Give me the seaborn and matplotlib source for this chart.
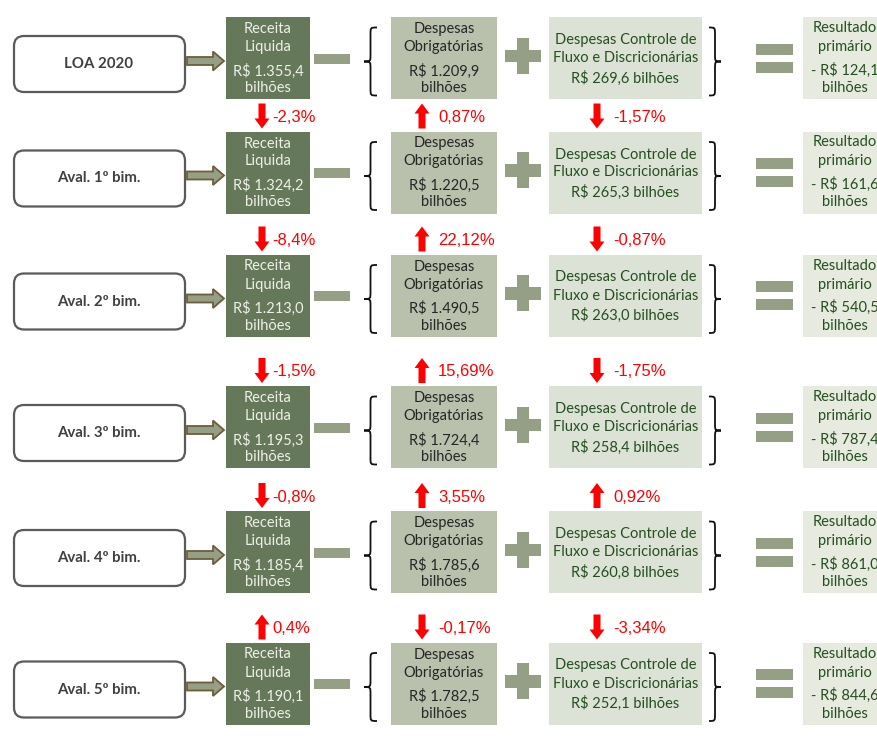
import numpy as np
import seaborn as sns
import matplotlib.pyplot as plt
from matplotlib.patches import FancyBboxPatch, Rectangle, Polygon, PathPatch
from matplotlib.path import Path

# dados (R$ bilhões)
etapas = ["LOA 2020", "Aval. 1º bim.", "Aval. 2º bim.", "Aval. 3º bim.", "Aval. 4º bim.", "Aval. 5º bim."]
receita = [1355.4, 1324.2, 1213.0, 1195.3, 1185.4, 1190.1]
obrigatorias = [1209.9, 1220.5, 1490.5, 1724.4, 1785.6, 1782.5]
controle = [269.6, 265.3, 263.0, 258.4, 260.8, 252.1]
resultado = [-124.1, -161.6, -540.5, -787.4, -861.0, -844.6]
# variação em relação à avaliação anterior (%)
var_receita = [-2.3, -8.4, -1.5, -0.8, 0.4]
var_obrig = [0.87, 22.12, 15.69, 3.55, -0.17]
var_controle = [-1.57, -0.87, -1.75, 0.92, -3.34]

# layout (pixels)
row_y = [58, 172.5, 295.5, 427, 552, 683.5]
HALF = 41

C_REC = "#66785a"
C_OBR = "#b9c1ad"
C_CTL = "#dde2d6"
C_RES = "#e6eadf"
C_SIG = "#949f86"
C_TXT_GREEN = "#24501f"
RED = "#ff0000"


def br(v, dec=1):
    s = f"{abs(v):,.{dec}f}".replace(",", "X").replace(".", ",").replace("X", ".")
    return ("-" if v < 0 else "") + s


def brace(ax, x0, w, yc, h, left=True):
    top, bot = yc - h / 2, yc + h / 2
    q = 7
    if left:
        xt, xm, xp = x0 + w, x0 + w / 2, x0
    else:
        xt, xm, xp = x0, x0 + w / 2, x0 + w
    verts = [(xt, top), (xm, top), (xm, top), (xm, top + q),
             (xm, yc - q),
             (xm, yc), (xm, yc), (xp, yc),
             (xm, yc), (xm, yc), (xm, yc + q),
             (xm, bot - q),
             (xm, bot), (xm, bot), (xt, bot)]
    codes = [Path.MOVETO, Path.CURVE4, Path.CURVE4, Path.CURVE4,
             Path.LINETO,
             Path.CURVE4, Path.CURVE4, Path.CURVE4,
             Path.CURVE4, Path.CURVE4, Path.CURVE4,
             Path.LINETO,
             Path.CURVE4, Path.CURVE4, Path.CURVE4]
    ax.add_patch(PathPatch(Path(verts, codes), fc="none", ec="#111111", lw=1.3))


def seta(ax, x, top_next, valor):
    # seta vermelha entre duas linhas
    if valor < 0:
        ax.arrow(x, top_next - 28, 0, 25, width=7, head_width=15, head_length=10,
                 length_includes_head=True, color=RED, lw=0)
    else:
        ax.arrow(x, top_next - 3, 0, -25, width=7, head_width=15, head_length=10,
                 length_includes_head=True, color=RED, lw=0)


sns.set_theme(style="white")
plt.rcParams['font.family'] = ['Lato', 'DejaVu Sans']

fig = plt.figure(figsize=(8.78, 7.42), dpi=100)
ax = fig.add_axes([0, 0, 1, 1])
ax.set_xlim(0, 878)
ax.set_ylim(742, 0)
ax.axis("off")

for i, yc in enumerate(row_y):
    # caixa da etapa
    ax.add_patch(FancyBboxPatch((14, yc + 6 - 28), 171, 56,
                                boxstyle="round,pad=0,rounding_size=10",
                                fc="white", ec="#5a5a5a", lw=1.6))
    ax.text(99, yc + 6, etapas[i], ha="center", va="center", fontsize=10.8,
            fontweight="bold", color="#404040")
    # seta cinza
    ya = yc + 3
    ax.add_patch(Polygon([(187, ya - 4), (213, ya - 4), (213, ya - 9.5), (224, ya),
                          (213, ya + 9.5), (213, ya + 4), (187, ya + 4)],
                         closed=True, fc=C_SIG, ec="#6e5c3a", lw=1.3))

    # receita líquida
    ax.add_patch(Rectangle((226, yc - HALF), 84, 2 * HALF, fc=C_REC, ec="none"))
    for dy, t in zip([-29, -11, 13, 30], ["Receita", "Liquida", "R$ " + br(receita[i]), "bilhões"]):
        ax.text(268, yc + dy, t, ha="center", va="center", fontsize=10.5, color="#eef0e8")

    # sinal de menos
    ax.add_patch(Rectangle((314, yc - 4.5), 36, 10, fc=C_SIG, ec="none"))
    brace(ax, 364, 13, yc + 3.5, 68, left=True)

    # despesas obrigatórias
    ax.add_patch(Rectangle((391, yc - HALF), 106, 2 * HALF, fc=C_OBR, ec="none"))
    for dy, t in zip([-29, -11, 13, 30], ["Despesas", "Obrigatórias", "R$ " + br(obrigatorias[i]), "bilhões"]):
        ax.text(444, yc + dy, t, ha="center", va="center", fontsize=10.5, color="#262626")

    # sinal de mais
    ax.add_patch(Rectangle((505, yc - 8.5), 36, 12.5, fc=C_SIG, ec="none"))
    ax.add_patch(Rectangle((517, yc - 20.5), 12, 36, fc=C_SIG, ec="none"))

    # despesas controle de fluxo
    ax.add_patch(Rectangle((549, yc - HALF), 153, 2 * HALF, fc=C_CTL, ec="none"))
    for dy, t in zip([-18, 0, 20], ["Despesas Controle de", "Fluxo e Discricionárias",
                                    "R$ " + br(controle[i]) + " bilhões"]):
        ax.text(625.5, yc + dy, t, ha="center", va="center", fontsize=10.5, color=C_TXT_GREEN)
    brace(ax, 709, 12, yc + 3.5, 68, left=False)

    # sinal de igual
    ax.add_patch(Rectangle((756, yc - 14.5), 37, 11, fc=C_SIG, ec="none"))
    ax.add_patch(Rectangle((756, yc + 3.5), 37, 11, fc=C_SIG, ec="none"))

    # resultado primário
    ax.add_patch(Rectangle((803, yc - HALF), 85, 2 * HALF, fc=C_RES, ec="none"))
    for dy, t in zip([-30, -11, 12, 30], ["Resultado", "primário",
                                          "- R$ " + br(abs(resultado[i])), "bilhões"]):
        ax.text(845, yc + dy, t, ha="center", va="center", fontsize=10.5, color=C_TXT_GREEN)

# variações
for i in range(1, len(row_y)):
    top = row_y[i] - HALF
    for x, xt, v, dec in [(262, 272, var_receita[i - 1], 1),
                          (422, 438, var_obrig[i - 1], 2),
                          (597, 613, var_controle[i - 1], 2)]:
        seta(ax, x, top, v)
        ax.text(xt, top - 14, br(v, dec) + "%", ha="left", va="center", fontsize=12,
                color=RED, family=["Liberation Sans", "DejaVu Sans"])

fig.savefig("out.png", dpi=100)
